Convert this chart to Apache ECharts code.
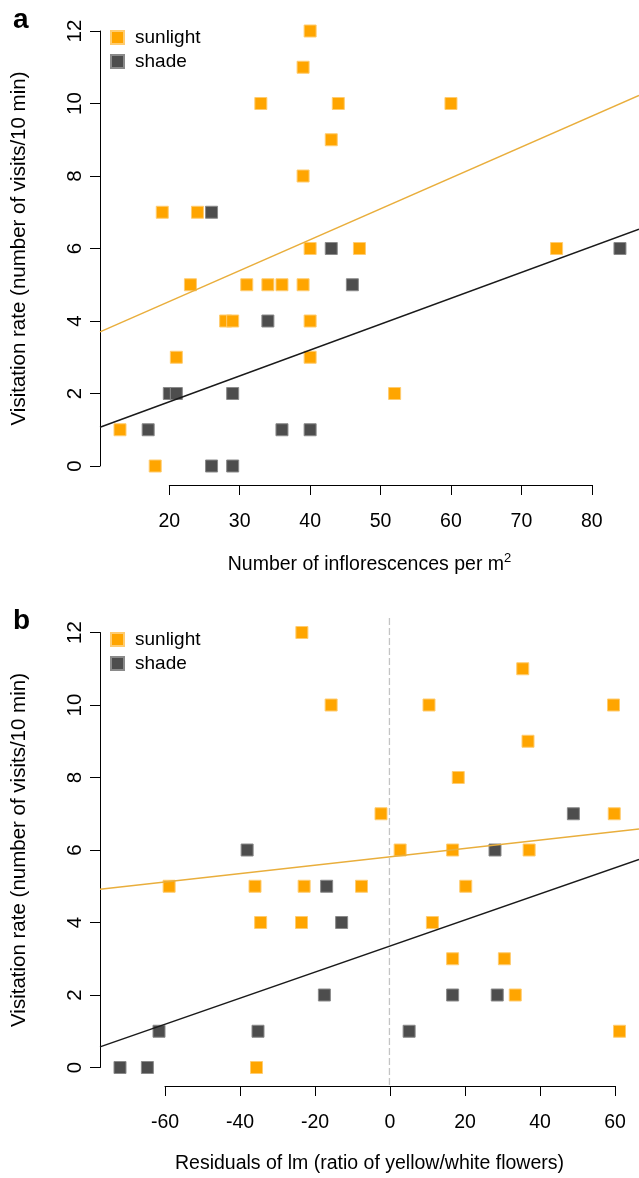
<!DOCTYPE html>
<html><head><meta charset="utf-8">
<script src="https://cdn.jsdelivr.net/npm/echarts@6/dist/echarts.min.js"></script>
<style>html,body{margin:0;padding:0;background:#fff}#c{width:639px;height:1178px}</style>
</head><body><div id="c"></div>
<script>
// ---- data ----
const xTicksA = [20, 30, 40, 50, 60, 70, 80];
const xTicksB = [-60, -40, -20, 0, 20, 40, 60];
const yTicks = [0, 2, 4, 6, 8, 10, 12];
const seriesNames = ['sunlight', 'shade'];

const sunlightA = [[40,12],[39,11],[33,10],[44,10],[60,10],[43,9],[39,8],[19,7],[24,7],[40,6],[47,6],[75,6],
  [23,5],[31,5],[34,5],[36,5],[39,5],[28,4],[29,4],[40,4],[21,3],[40,3],[52,2],[13,1],[18,0]];
const shadeA = [[26,7],[43,6],[84,6],[46,5],[34,4],[20,2],[21,2],[29,2],[17,1],[36,1],[40,1],[26,0],[29,0]];

const sunlightB = [[-23.5,12],[35.4,11],[-15.7,10],[10.4,10],[59.6,10],[36.8,9],[18.2,8],[-2.4,7],[59.8,7],
  [2.7,6],[16.7,6],[37.1,6],[-58.9,5],[-36,5],[-22.9,5],[-7.6,5],[20.2,5],[-34.5,4],[-23.6,4],[11.3,4],
  [16.7,3],[30.5,3],[33.4,2],[61.2,1],[-35.6,0]];
const shadeB = [[48.9,7],[-38.1,6],[28,6],[-16.9,5],[-12.9,4],[-17.5,2],[16.7,2],[28.6,2],[-61.6,1],[-35.2,1],
  [5.1,1],[-72,0],[-64.7,0]];

// plot-region extents (data units) and fitted-line heights at those extents
const plotXRangeA = [10.16, 86.84];
const plotXRangeB = [-77.33, 66.67];
const plotYRange = [-0.48, 12.48];
const fitSunA = [3.70, 10.22];
const fitShadeA = [1.07, 6.53];
const fitSunB = [4.92, 6.58];
const fitShadeB = [0.57, 5.74];
const refLineB = 0;

// ---- styling ----
const FONT = 'Liberation Sans, Arial, Helvetica, sans-serif';
const ORANGE = '#FFA500', GREY = '#4D4D4D';
const chart = echarts.init(document.getElementById('c'), null, {renderer: 'canvas'});

function xAxisCfg(grid, ticks, offset) {
  return {
    gridIndex: grid, type: 'value', position: 'bottom',
    min: ticks[0], max: ticks[ticks.length - 1], interval: ticks[1] - ticks[0],
    offset: offset,
    axisLine: {show: true, onZero: false, lineStyle: {color: '#000', width: 1}},
    axisTick: {show: true, length: 10, lineStyle: {color: '#000', width: 1}},
    axisLabel: {fontSize: 19.5, color: '#000', fontFamily: FONT, margin: 27},
    splitLine: {show: false}
  };
}
function yAxisCfg(grid, offset) {
  return {
    gridIndex: grid, type: 'value', position: 'left',
    min: yTicks[0], max: yTicks[yTicks.length - 1], interval: yTicks[1] - yTicks[0],
    offset: offset,
    axisLine: {show: true, onZero: false, lineStyle: {color: '#000', width: 1}},
    axisTick: {show: true, length: 10, lineStyle: {color: '#000', width: 1}},
    axisLabel: {fontSize: 20.5, color: '#000', fontFamily: FONT, rotate: 90, margin: 14},
    splitLine: {show: false}
  };
}
// overlay axes spanning the whole plot region: carry the fitted lines and the axis titles
function overlayX(grid, range, name) {
  return {
    gridIndex: grid, type: 'value', position: 'bottom', min: range[0], max: range[1],
    axisLine: {show: false}, axisTick: {show: false}, axisLabel: {show: false}, splitLine: {show: false},
    name: name, nameLocation: 'middle', nameGap: 69, nameMoveOverlap: false,
    nameTextStyle: {fontSize: 19.5, color: '#000', fontFamily: FONT,
      rich: {sup: {fontSize: 13, color: '#000', fontFamily: FONT, padding: [0, 0, 12, 0]}}}
  };
}
function overlayY(grid) {
  return {
    gridIndex: grid, type: 'value', position: 'left', min: plotYRange[0], max: plotYRange[1],
    axisLine: {show: false}, axisTick: {show: false}, axisLabel: {show: false}, splitLine: {show: false},
    name: 'Visitation rate (number of visits/10 min)', nameLocation: 'middle', nameGap: 70, nameRotate: 90,
    nameMoveOverlap: false,
    nameTextStyle: {fontSize: 20.5, color: '#000', fontFamily: FONT}
  };
}
function scatter(name, data, idx, color, border) {
  return {type: 'scatter', name: name, data: data, xAxisIndex: idx, yAxisIndex: idx,
    symbol: 'rect', symbolSize: 12, clip: false, z: 3, silent: true,
    itemStyle: {color: color, borderColor: border, borderWidth: 1, opacity: 1}};
}
function fit(data, idx, color) {
  return {type: 'line', data: data, xAxisIndex: idx, yAxisIndex: idx, symbol: 'none', clip: false,
    z: 4, silent: true, lineStyle: {color: color, width: 1.5}};
}
function legendCfg(top) {
  return {orient: 'vertical', left: 110, top: top, padding: 0, itemWidth: 13, itemHeight: 13, itemGap: 5, icon: 'rect',
    data: seriesNames, selectedMode: false,
    textStyle: {fontSize: 19, color: '#000', fontFamily: FONT, padding: [0, 0, 0, 6]}};
}

const option = {
  animation: false,
  backgroundColor: '#fff',
  title: [
    {text: 'a', left: 8, top: 1, textStyle: {fontSize: 28, fontWeight: 'bold', color: '#000', fontFamily: FONT}},
    {text: 'b', left: 8, top: 602, textStyle: {fontSize: 28, fontWeight: 'bold', color: '#000', fontFamily: FONT}}
  ],
  legend: [legendCfg(28), legendCfg(630)],
  grid: [
    {left: 169.3, top: 31, width: 422.5, height: 435},
    {left: 165, top: 632.5, width: 450, height: 435},
    {left: 100, top: 13.6, width: 540, height: 469.8},
    {left: 100, top: 615.1, width: 540, height: 469.8}
  ],
  xAxis: [
    xAxisCfg(0, xTicksA, 19),
    xAxisCfg(1, xTicksB, 18.5),
    overlayX(2, plotXRangeA, 'Number of inflorescences per m{sup|2}'),
    overlayX(3, plotXRangeB, 'Residuals of lm (ratio of yellow/white flowers)')
  ],
  yAxis: [yAxisCfg(0, 69.3), yAxisCfg(1, 65), overlayY(2), overlayY(3)],
  series: [
    {type: 'line', name: 'ref', data: [[refLineB, plotYRange[0]], [refLineB, plotYRange[1]]],
      xAxisIndex: 3, yAxisIndex: 3, symbol: 'none', z: 1, silent: true,
      lineStyle: {color: '#C4C4C4', width: 1.3, type: [7, 3]}},
    scatter('sunlight', sunlightA, 0, ORANGE, '#FFCC70'),
    scatter('shade', shadeA, 0, GREY, '#8A8A8A'),
    scatter('sunlight', sunlightB, 1, ORANGE, '#FFCC70'),
    scatter('shade', shadeB, 1, GREY, '#8A8A8A'),
    fit([[plotXRangeA[0], fitSunA[0]], [plotXRangeA[1], fitSunA[1]]], 2, '#E9AE3C'),
    fit([[plotXRangeA[0], fitShadeA[0]], [plotXRangeA[1], fitShadeA[1]]], 2, '#1A1A1A'),
    fit([[plotXRangeB[0], fitSunB[0]], [plotXRangeB[1], fitSunB[1]]], 3, '#E9AE3C'),
    fit([[plotXRangeB[0], fitShadeB[0]], [plotXRangeB[1], fitShadeB[1]]], 3, '#1A1A1A')
  ]
};
chart.setOption(option);
</script>
</body></html>
